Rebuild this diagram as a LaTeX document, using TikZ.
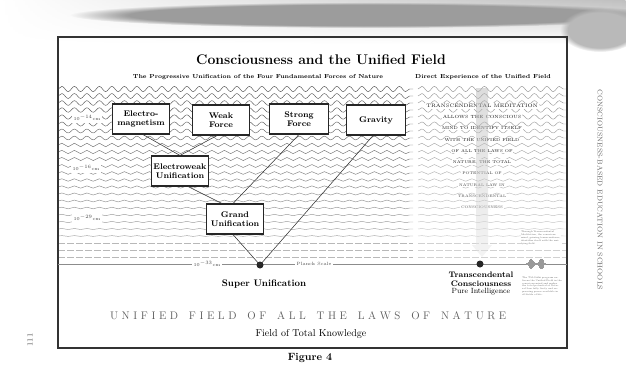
\documentclass[tikz,border=0pt]{standalone}
\usepackage{fontspec}
\usetikzlibrary{decorations.pathmorphing,fadings}
\def\lsp#1{\lspi#1\relax}
\def\lspi#1{\ifx#1\relax\else#1\kern3.6pt\expandafter\lspi\fi}
\begin{document}
\begin{tikzpicture}[x=1pt,y=-1pt,
  forcebox/.style={draw=black!85, line width=1.1pt, fill=white, minimum width=57pt, minimum height=30pt,
     align=center, inner sep=1pt, font=\fontsize{8.2}{9}\selectfont\bfseries},
  scalelbl/.style={fill=white, inner sep=2pt, font=\fontsize{4.6}{5}\selectfont, text=black!70},
  conn/.style={draw=black!80, line width=0.55pt},
  tmline/.style={fill=white, inner sep=0.9pt, text=black!90},
  dotnode/.style={circle, fill=black!85, inner sep=0pt, minimum size=7pt},
  tiny/.style={align=left, inner sep=0pt, text=black!60, font=\fontsize{2.3}{2.8}\selectfont}
]
\useasboundingbox (0,0) rectangle (626,368);
% top smudge
\shade[top color=gray!50, bottom color=white, path fading=west] (0,0) rectangle (626,44);
\fill[gray!78, path fading=circle with fuzzy edge 20 percent] (370,15) ellipse (300 and 13);
\fill[gray!55, path fading=circle with fuzzy edge 20 percent] (600,30) ellipse (40 and 22);
% waves
\foreach \i in {0,...,21} {
  \pgfmathsetmacro\yy{89+7*\i}
  \pgfmathsetmacro\amp{max(0.35,2.6-0.105*\i)}
  \pgfmathsetmacro\wc{68-1.5*\i}
  \draw[black!\wc, line width=0.45pt, decorate, decoration={snake,amplitude=\amp pt,segment length=12.5pt}] (58,\yy) -- (413,\yy);
  \pgfmathsetmacro\wd{42-1.0*\i}
  \draw[black!\wd, line width=0.45pt, decorate, decoration={snake,amplitude=\amp pt,segment length=12.5pt}] (418,\yy) -- (567,\yy);
}
\foreach \i in {22,23,24} {
  \pgfmathsetmacro\yy{89+7*\i}
  \draw[black!28, line width=0.4pt, dash pattern=on 7pt off 2pt] (58,\yy) -- (413,\yy);
  \draw[black!18, line width=0.4pt, dash pattern=on 7pt off 2pt] (418,\yy) -- (567,\yy);
}
% frame
\draw[black!80, line width=1.2pt] (58,37) rectangle (567,348);
% titles
\node[font=\fontsize{14}{16}\selectfont\bfseries] (title) at (321,60) {Consciousness and the Unified Field};
\node[font=\fontsize{5.8}{7}\selectfont\bfseries] (subl) at (258,77) {The Progressive Unification of the Four Fundamental Forces of Nature};
\node[font=\fontsize{5.8}{7}\selectfont\bfseries] (subr) at (483,77) {Direct Experience of the Unified Field};
% scale labels
\node[scalelbl] (s14) at (87,118) {10$^{-14}$cm};
\node[scalelbl] (s16) at (86,168) {10$^{-16}$cm};
\node[scalelbl] (s29) at (87,218) {10$^{-29}$cm};
% planck line
\coordinate (pl) at (58,264);
\coordinate (pr) at (567,264);
\draw[black!45, line width=0.5pt] (pl) -- (pr);
\node[scalelbl] (s33) at (207,264) {10$^{-33}$cm};
\node[scalelbl] (planck) at (314,264) {Planck Scale};
% boxes
\node[forcebox] (em) at (141,119) {Electro-\\magnetism};
\node[forcebox] (weak) at (221,120) {Weak\\Force};
\node[forcebox, minimum width=59pt] (strong) at (299,119) {Strong\\Force};
\node[forcebox, minimum width=59pt] (grav) at (376,120) {Gravity};
\node[forcebox] (ew) at (180,171) {Electroweak\\Unification};
\node[forcebox] (gu) at (235,219) {Grand\\Unification};
\node[dotnode] (su) at (260,265) {};
\node[dotnode] (tc) at (480,264) {};
% connectors
\draw[conn] ([xshift=2pt]em.south) -- (ew.north);
\draw[conn] ([xshift=-4pt]weak.south) -- (ew.north);
\draw[conn] ([xshift=8pt]ew.south) -- ([xshift=-13pt]gu.north);
\draw[conn] (strong.south) -- ([xshift=-2pt]gu.north);
\draw[conn] ([xshift=-2pt]gu.south) -- (su.center);
\draw[conn] ([xshift=-3pt]grav.south) -- (su.center);
% TM text
\node[tmline, font=\fontsize{5}{6}\selectfont] (t1) at (482,106) {TRANSCENDENTAL MEDITATION};
\node[tmline, font=\fontsize{4.5}{5}\selectfont] (t2) at (482,117) {ALLOWS THE CONSCIOUS};
\node[tmline, font=\fontsize{4.3}{5}\selectfont] (t3) at (482,128) {MIND TO IDENTIFY ITSELF};
\node[tmline, font=\fontsize{4.2}{5}\selectfont] (t4) at (482,140) {WITH THE UNIFIED FIELD};
\node[tmline, font=\fontsize{4.1}{5}\selectfont] (t5) at (482,151) {OF ALL THE LAWS OF};
\node[tmline, font=\fontsize{4.0}{5}\selectfont] (t6) at (482,162) {NATURE, THE TOTAL};
\node[tmline, font=\fontsize{3.8}{5}\selectfont, text=black!80] (t7) at (482,173) {POTENTIAL OF};
\node[tmline, font=\fontsize{3.8}{5}\selectfont, text=black!75] (t8) at (482,185) {NATURAL LAW IN};
\node[tmline, font=\fontsize{3.7}{5}\selectfont, text=black!70] (t9) at (482,196) {TRANSCENDENTAL};
\node[tmline, font=\fontsize{3.7}{5}\selectfont, text=black!65] (t10) at (482,207) {CONSCIOUSNESS};
% gray arrow
\shade[top color=gray!60, bottom color=gray!20, fill opacity=0.45]
  (476,88) -- (488,88) -- (488,245) -- (492,245) -- (482,257) -- (472,245) -- (476,245) -- cycle;
% small print
\node[tiny, fill=white, text width=40pt] (sp1) at (541,238) {Through Transcendental Meditation, the conscious mind, gaining transcendence, identifies itself with the unifying field.};
\node[tiny, text width=40pt] (sp2) at (542,286) {The TM-Sidhi program enlivens the Unified Field in the conscious mind and makes the total potential of Natural Law fully lively and expressing power available in all fields of life.};
% sound waves
\foreach \k in {0,...,24} {
  \pgfmathsetmacro\xx{526+\k*0.8}
  \pgfmathsetmacro\hh{0.4+5*exp(-((\xx-531)^2)/7)+5*exp(-((\xx-541)^2)/7)}
  \draw[black!40, line width=0.35pt] (\xx,264-\hh) -- (\xx,264+\hh);
}
% bottom labels
\node[font=\fontsize{9.5}{11}\selectfont\bfseries] (sulbl) at (264,284) {Super Unification};
\node[font=\fontsize{8}{9}\selectfont\bfseries, align=center] (tclbl) at (481,279) {Transcendental\\Consciousness};
\node[font=\fontsize{7.5}{9}\selectfont] (pilbl) at (481,292) {Pure Intelligence};
\node[font=\fontsize{11}{12}\selectfont, text=black!65] (uf) at (310,316) {\lsp{UNIFIED~FIELD~OF~ALL~THE~LAWS~OF~NATURE}};
\node[font=\fontsize{10}{12}\selectfont] (ftk) at (311,334) {Field of Total Knowledge};
\node[font=\fontsize{10.5}{12}\selectfont\bfseries] (fig) at (310,358) {Figure 4};
% margins
\node[rotate=90, font=\fontsize{8}{9}\selectfont, text=black!65] (pg) at (30,340) {111};
\node[rotate=-90, font=\fontsize{7}{8}\selectfont, text=black!60] (side) at (600,190) {CONSCIOUSNESS-BASED EDUCATION IN SCHOOLS};
\end{tikzpicture}
\end{document}
